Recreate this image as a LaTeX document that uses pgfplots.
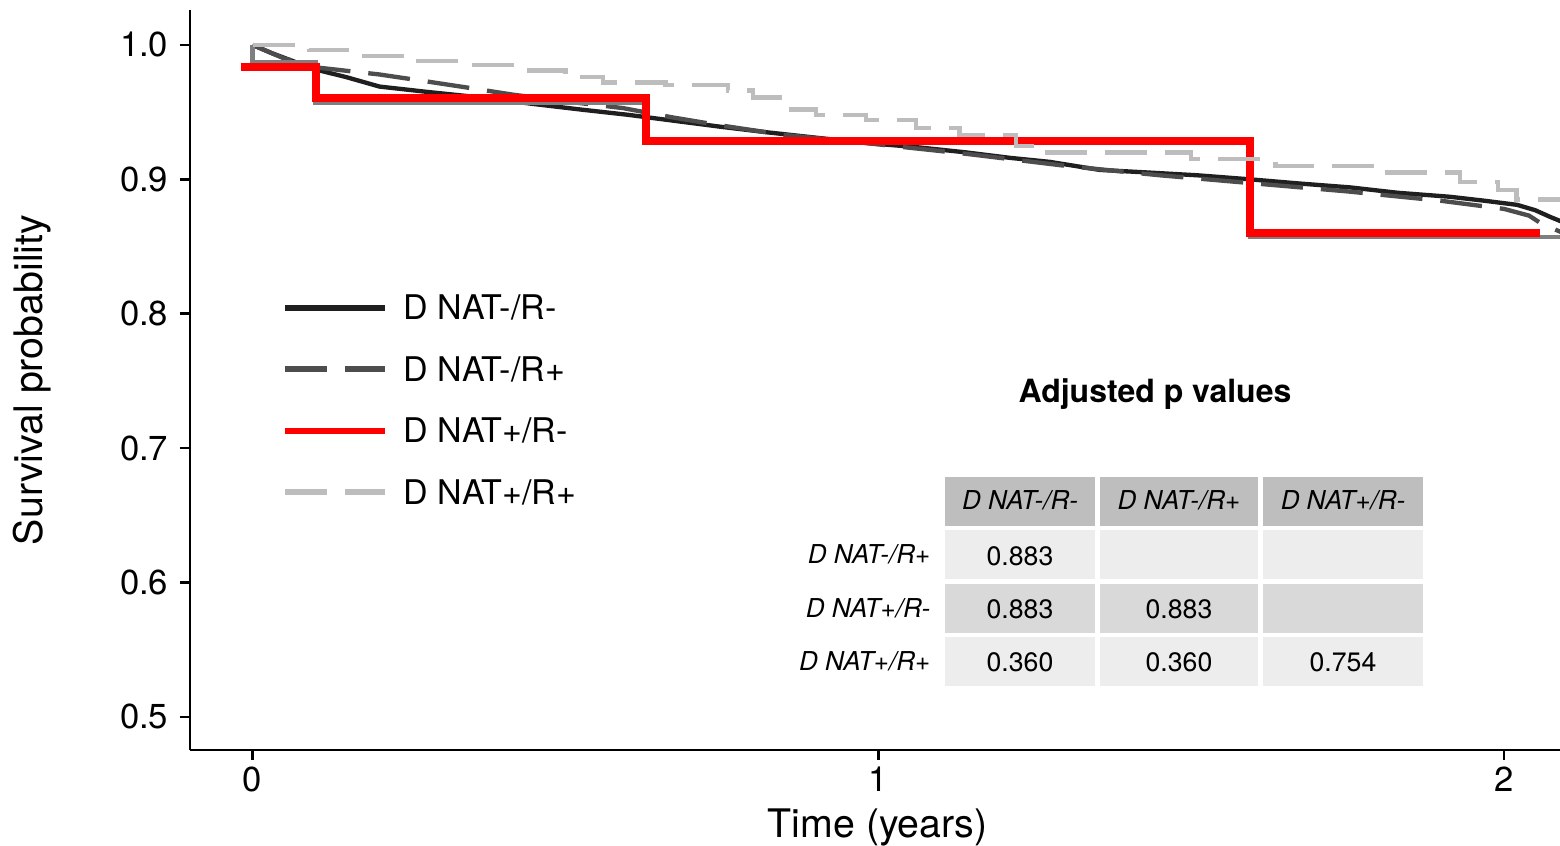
\documentclass[border=0pt]{standalone}
\usepackage{fontspec}
\setmainfont{TeX Gyre Heros}
\usepackage{pgfplots}
\pgfplotsset{compat=1.18}
\definecolor{kmblack}{HTML}{1F1F1F}
\definecolor{kmdark}{HTML}{4D4D4D}
\definecolor{kmlight}{HTML}{BDBDBD}
\definecolor{kmmid}{HTML}{7F7F7F}
\definecolor{kmred}{HTML}{FF0000}
\definecolor{hdr}{HTML}{BEBEBE}
\definecolor{rowa}{HTML}{EDEDED}
\definecolor{rowb}{HTML}{D9D9D9}
\begin{document}
\begin{tikzpicture}
\begin{axis}[
  at={(0pt,0pt)}, anchor=south west,
  scale only axis, width=411pt, height=222pt,
  xmin=-0.1, xmax=2.0895, ymin=0.4754, ymax=1.026,
  axis x line=bottom, axis y line=left,
  axis line style={-, line width=0.8pt, black},
  xtick={0,1,2}, ytick={0.5,0.6,0.7,0.8,0.9,1.0},
  /pgf/number format/assume math mode=true,
  yticklabel style={/pgf/number format/fixed, /pgf/number format/fixed zerofill, /pgf/number format/precision=1},
  xticklabel style={yshift=1.5pt},
  tick align=outside, major tick length=3pt,
  tick style={line width=0.8pt, black},
  tick label style={font=\fontsize{10.4}{12}\selectfont},
  xlabel={Time (years)}, ylabel={Survival probability},
  label style={font=\fontsize{11.8}{14}\selectfont},
  xlabel style={at={(axis description cs:0.502,-0.1176)}, anchor=base},
  ylabel style={at={(axis description cs:-0.1073,0.5)}, anchor=base, rotate=0},
  legend style={at={(axis cs:0.0462,0.8140)}, anchor=north west, draw=none, fill=none,
    inner sep=0pt, row sep=11.15pt, column sep=4.8pt,
    font=\fontsize{10.2}{12}\selectfont,
    nodes={inner sep=0pt, text height=7.3pt, text depth=0pt}},
  legend cell align=left,
  legend image code/.code={\draw[#1, line width=1.7pt] (0pt,0pt) -- (30pt,0pt);},
]
% D NAT-/R-
\addplot[kmblack, line width=1.3pt] coordinates {
(0,1.000) (0.03,0.994) (0.07,0.987) (0.107,0.981) (0.15,0.976) (0.203,0.969)
(0.28,0.965) (0.363,0.961) (0.45,0.956) (0.523,0.952) (0.60,0.948) (0.683,0.943)
(0.75,0.939) (0.822,0.935) (0.90,0.931) (0.982,0.927) (1.06,0.924) (1.141,0.920)
(1.21,0.916) (1.274,0.913) (1.354,0.907) (1.434,0.905) (1.51,0.903) (1.594,0.900)
(1.67,0.897) (1.754,0.894) (1.83,0.890) (1.914,0.887) (1.97,0.884) (2.021,0.881)
(2.05,0.877) (2.074,0.872) (2.095,0.868)};
\addlegendentry{D NAT-/R-}
% D NAT-/R+
\addplot[kmdark, line width=1.3pt, dash pattern=on 12.6pt off 5.4pt] coordinates {
(0,1.000) (0.05,0.990) (0.107,0.983) (0.203,0.978) (0.283,0.9725) (0.347,0.968)
(0.416,0.963) (0.50,0.958) (0.592,0.953) (0.672,0.946) (0.75,0.940) (0.85,0.933)
(0.98,0.927) (1.14,0.919) (1.30,0.910) (1.45,0.903) (1.60,0.897) (1.75,0.891)
(1.90,0.884) (2.00,0.878) (2.04,0.873) (2.06,0.867) (2.095,0.860)};
\addlegendentry{D NAT-/R+}
% original grey step under the red overlay
\addplot[kmmid, line width=1.3pt, forget plot] coordinates {
(0,1.000) (0,0.9875) (0.1007,0.9875) (0.1007,0.957) (0.63,0.957) (0.63,0.927)
(1.594,0.927) (1.594,0.857) (2.095,0.857)};
% D NAT+/R-
\addplot[kmred, line width=2.4pt] coordinates {
(-0.019,0.9836) (0.1007,0.9836) (0.1007,0.9606) (0.628,0.9606) (0.628,0.9286)
(1.594,0.9286) (1.594,0.860) (2.058,0.860)};
\addlegendentry{D NAT+/R-}
% D NAT+/R+
\addplot[kmlight, line width=1.3pt, dash pattern=on 12.6pt off 5.4pt, const plot] coordinates {
(0,1.000) (0.09,0.996) (0.16,0.992) (0.25,0.988) (0.34,0.985) (0.42,0.981)
(0.50,0.976) (0.56,0.972) (0.66,0.970) (0.76,0.966) (0.80,0.961) (0.86,0.952)
(0.90,0.948) (0.98,0.944) (1.06,0.938) (1.13,0.933) (1.22,0.925) (1.26,0.920)
(1.50,0.915) (1.635,0.910) (1.80,0.905) (1.93,0.898) (1.99,0.892) (2.02,0.885)
(2.095,0.883)};
\addlegendentry{D NAT+/R+}
\end{axis}
\begin{scope}[x=0.3pt, y=-0.3pt, shift={(-190,-750)}]
  \node[font=\bfseries\fontsize{9.6}{11}\selectfont, anchor=base] at (1155,403) {Adjusted p values};
  \fill[hdr] (945,477) rectangle (1095,526);
  \fill[hdr] (1100,477) rectangle (1258,526);
  \fill[hdr] (1263,477) rectangle (1423,526);
  \fill[rowa] (945,530) rectangle (1095,579);
  \fill[rowa] (1100,530) rectangle (1258,579);
  \fill[rowa] (1263,530) rectangle (1423,579);
  \fill[rowb] (945,584) rectangle (1095,633);
  \fill[rowb] (1100,584) rectangle (1258,633);
  \fill[rowb] (1263,584) rectangle (1423,633);
  \fill[rowa] (945,637) rectangle (1095,686);
  \fill[rowa] (1100,637) rectangle (1258,686);
  \fill[rowa] (1263,637) rectangle (1423,686);
  \begin{scope}[every node/.style={font=\itshape\fontsize{7.8}{9}\selectfont, inner sep=0pt}]
    \node[anchor=base] at (1020,510) {D NAT-/R-};
    \node[anchor=base] at (1179,510) {D NAT-/R+};
    \node[anchor=base] at (1343,510) {D NAT+/R-};
    \node[anchor=base east] at (931,564) {D NAT-/R+};
    \node[anchor=base east] at (931,618) {D NAT+/R-};
    \node[anchor=base east] at (931,671) {D NAT+/R+};
  \end{scope}
  \begin{scope}[every node/.style={font=\fontsize{8}{9}\selectfont, inner sep=0pt, anchor=base}]
    \node at (1020,566) {0.883};
    \node at (1020,619) {0.883};
    \node at (1179,619) {0.883};
    \node at (1020,672) {0.360};
    \node at (1179,672) {0.360};
    \node at (1343,672) {0.754};
  \end{scope}
  \pgfresetboundingbox
  \path[use as bounding box] (0,0) rectangle (1560,846);
\end{scope}
\end{tikzpicture}
\end{document}
